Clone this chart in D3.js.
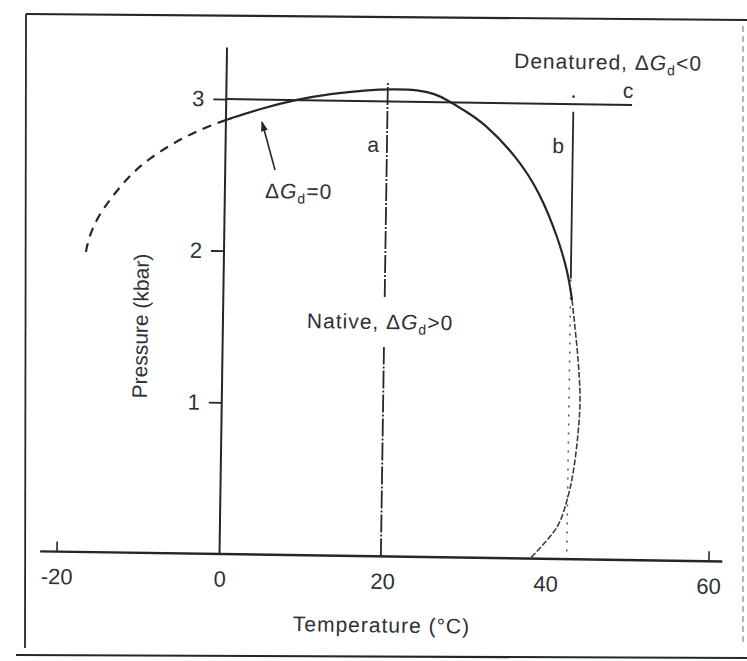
<!DOCTYPE html>
<html><head><meta charset="utf-8">
<script src="https://cdn.jsdelivr.net/npm/d3@7"></script>
<style>
html,body{margin:0;padding:0;background:#fff;}
svg{display:block;}
text{font-family:"Liberation Sans",Arial,sans-serif;fill:#2e3136;}
</style></head>
<body><svg id="c" width="747" height="661"></svg>
<script>
// ---- data (temperature in °C, pressure in kbar) ----
const xTicks = [-20, 0, 20, 40, 60];
const yTicks = [1, 2, 3];
// ΔGd = 0 boundary, measured region (solid)
const boundaryTemp = [0, 4.2, 8.7, 13.1, 17.0, 20.5, 23.5, 25.6, 27.1, 29.0, 31.55, 35.78, 38.67, 40.96, 42.25, 42.79];
const boundaryPres = [2.862, 2.94, 3.005, 3.048, 3.072, 3.082, 3.080, 3.055, 3.016, 2.955, 2.874, 2.647, 2.412, 2.117, 1.887, 1.709];
// lower (faint) part of the boundary
const lowerTemp = [42.79, 43.64, 43.95, 43.77, 43.23, 42.54, 41.36, 38.1];
const lowerPres = [1.709, 1.314, 1.05, 0.833, 0.569, 0.39, 0.211, 0];
// extrapolated part (dashed)
const extrapTemp = [0, -2.8, -5.96, -9.25, -11.67, -13.84, -15.64, -16.7, -17.04];
const extrapPres = [2.862, 2.805, 2.72, 2.605, 2.49, 2.345, 2.205, 2.06, 1.945];
// paths a, b, c
const pathATemp = 19.8, pathASegments = [[0, 1.38], [1.71, 3.13]];
const pathBTemp = 42.6, pathBSolid = [1.85, 2.95], pathBDotted = [0.05, 1.85], pathBTopDot = 3.05;
const pathCPres = 3, pathCRange = [0, 49.8];
const xAxisRange = [-22, 61.7];
const yAxisTop = 3.34;

const svg = d3.select("#c");
const ink = "#23272d";

// scanned frame (static decoration)
const frame = svg.append("g").attr("fill","none").attr("stroke",ink);
frame.append("path").attr("d","M26,14 L747,20").attr("stroke-width",2.2);
frame.append("path").attr("d","M26,14 L25,648").attr("stroke-width",1.8);
frame.append("path").attr("d","M16,655 L747,658").attr("stroke-width",2.2);
frame.append("path").attr("d","M743,26 L743,646").attr("stroke-width",1.2).attr("stroke","#888").attr("stroke-dasharray","6,4");

// chart group (scan slightly rotated)
const g = svg.append("g").attr("transform","translate(219.5,554) rotate(0.85)");
const x = d3.scaleLinear().domain([-20, 60]).range([-163, 489]);
const y = d3.scaleLinear().domain([0, 3]).range([0, -455]);

// axes lines
g.append("line").attr("x1",x(xAxisRange[0])).attr("x2",x(xAxisRange[1])).attr("y1",y(0)).attr("y2",y(0))
  .attr("stroke",ink).attr("stroke-width",2.4);
g.append("line").attr("x1",x(0)).attr("x2",x(0)).attr("y1",y(0)).attr("y2",y(yAxisTop))
  .attr("stroke",ink).attr("stroke-width",2);

const xa = g.append("g").call(d3.axisBottom(x).tickValues(xTicks).tickSizeInner(-10).tickSizeOuter(0).tickPadding(17)
  .tickFormat(d => d < 0 ? "-" + Math.abs(d) : String(d)));
xa.select(".domain").remove();
xa.selectAll(".tick line").attr("stroke",ink).attr("stroke-width",1.6)
  .attr("display", d => (d === -20 || d === 60) ? null : "none");
xa.selectAll(".tick text").attr("font-size",22).attr("fill","#3a3d42").style("font-family","Liberation Sans, Arial, sans-serif");

const ya = g.append("g").call(d3.axisLeft(y).tickValues(yTicks).tickSize(13).tickPadding(9).tickFormat(d3.format("d")));
ya.select(".domain").remove();
ya.selectAll(".tick line").attr("stroke",ink).attr("stroke-width",1.8);
ya.selectAll(".tick text").attr("font-size",22).attr("fill","#3a3d42").style("font-family","Liberation Sans, Arial, sans-serif");

// axis titles
g.append("text").attr("x",x(20)).attr("y",76).attr("text-anchor","middle").attr("font-size",21)
  .attr("letter-spacing",1).attr("fill","#55585c").text("Temperature (°C)");
g.append("text").attr("transform",`translate(${-75},${y(1.495)}) rotate(-90)`).attr("text-anchor","middle")
  .attr("font-size",21).attr("fill","#55585c").text("Pressure (kbar)");

// path c (isobaric line)
g.append("line").attr("x1",x(pathCRange[0])).attr("x2",x(pathCRange[1])).attr("y1",y(pathCPres)).attr("y2",y(pathCPres))
  .attr("stroke",ink).attr("stroke-width",2);
// path a
g.selectAll(".pa").data(pathASegments).join("line").attr("class","pa")
  .attr("x1",x(pathATemp)).attr("x2",x(pathATemp)).attr("y1",d => y(d[0])).attr("y2",d => y(d[1]))
  .attr("stroke",ink).attr("stroke-width",1.8).attr("stroke-dasharray","18,2,2,2");
// path b
g.append("line").attr("x1",x(pathBTemp)).attr("x2",x(pathBTemp)).attr("y1",y(pathBSolid[0])).attr("y2",y(pathBSolid[1]))
  .attr("stroke",ink).attr("stroke-width",1.8);
g.append("line").attr("x1",x(pathBTemp)).attr("x2",x(pathBTemp)).attr("y1",y(pathBDotted[0])).attr("y2",y(pathBDotted[1]))
  .attr("stroke","#555").attr("stroke-width",1.5).attr("stroke-dasharray","2,7");
g.append("circle").attr("cx",x(pathBTemp)).attr("cy",y(pathBTopDot)).attr("r",1.3).attr("fill",ink);

// boundary curves
const line = d3.line().x(d => x(d[0])).y(d => y(d[1])).curve(d3.curveBasis);
g.append("path").datum(d3.zip(boundaryTemp, boundaryPres)).attr("d",line)
  .attr("fill","none").attr("stroke",ink).attr("stroke-width",2.2);
g.append("path").datum(d3.zip(lowerTemp, lowerPres)).attr("d",d3.line().x(d => x(d[0])).y(d => y(d[1])).curve(d3.curveCatmullRom))
  .attr("fill","none").attr("stroke","#3a3e44").attr("stroke-width",1.6).attr("stroke-dasharray","6,2");
g.append("path").datum(d3.zip(extrapTemp, extrapPres)).attr("d",line)
  .attr("fill","none").attr("stroke",ink).attr("stroke-width",2.2).attr("stroke-dasharray","9,7");

// arrow
svg.append("defs").append("marker").attr("id","ah").attr("viewBox","0 0 10 10").attr("refX",9).attr("refY",5)
  .attr("markerWidth",12).attr("markerHeight",10).attr("markerUnits","userSpaceOnUse").attr("orient","auto")
  .append("path").attr("d","M0,1.5 L10,5 L0,8.5 Z").attr("fill",ink);
g.append("line").attr("x1",x(6.11)).attr("y1",y(2.537)).attr("x2",x(4.43)).attr("y2",y(2.852))
  .attr("stroke",ink).attr("stroke-width",1.6).attr("marker-end","url(#ah)");

// labels with ΔGd
function dgLabel(tx, tp, pre, post){
  const t = g.append("text").attr("x",x(tx)).attr("y",y(tp)).attr("font-size",21).attr("letter-spacing",1);
  t.append("tspan").text(pre + "Δ");
  t.append("tspan").attr("font-style","italic").text("G");
  t.append("tspan").attr("font-size",14).attr("dy",5).text("d");
  t.append("tspan").attr("dy",-5).text(post);
  return t;
}
dgLabel(35.25, 3.233, "Denatured, ", "<0");
dgLabel(10.3, 1.499, "Native, ", ">0");
dgLabel(4.94, 2.352, "", "=0");

g.append("text").attr("x",x(18.1)).attr("y",y(2.666)).attr("text-anchor","middle").attr("font-size",21).text("a");
g.append("text").attr("x",x(40.8)).attr("y",y(2.677)).attr("text-anchor","middle").attr("font-size",21).text("b");
g.append("text").attr("x",x(49.3)).attr("y",y(3.047)).attr("text-anchor","middle").attr("font-size",21).text("c");
</script></body></html>
